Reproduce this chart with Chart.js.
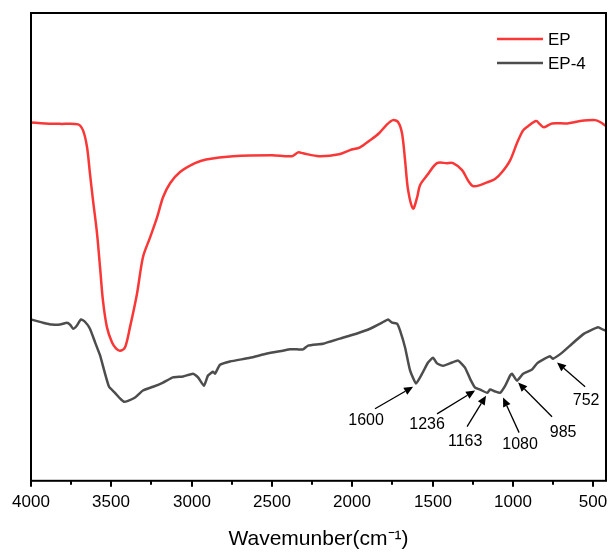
<!DOCTYPE html>
<html>
<head>
<meta charset="utf-8">
<script src="https://cdn.jsdelivr.net/npm/chart.js@4.4.1/dist/chart.umd.min.js"></script>
<style>
  html, body { margin: 0; padding: 0; background: #fff; }
  #wrap { width: 610px; height: 553px; }
</style>
</head>
<body>
<div id="wrap"><canvas id="ftir" width="610" height="553"></canvas></div>
<script>
// Espectro EP (rojo) - número de onda y transmitancia (u.a.)
const epWave = [4000,3913,3819,3707,3676,3651,3633,3614,3589,3570,3552,3527,3496,3471,3446,3415,3384,3340,3303,3259,3215,3178,3134,3072,2979,2910,2742,2499,2375,2337,2306,2207,2082,2014,1951,1889,1833,1783,1746,1715,1690,1671,1652,1621,1596,1578,1534,1472,1410,1372,1316,1279,1248,1204,1160,1111,1067,1017,974,936,905,855,831,806,756,662,581,488,457,420];
const epT = [76.6,76.4,76.3,76.2,74.9,71.3,65.7,60.0,52.9,45.6,38.5,32.8,29.6,28.3,27.8,28.5,32.8,40.0,47.8,52.0,56.3,60.6,63.6,66.0,67.9,68.7,69.4,69.6,69.4,70.2,70.0,69.4,69.8,70.7,71.3,72.8,74.3,76.2,77.1,76.7,74.3,68.5,62.1,58.2,60.6,63.2,65.3,67.9,67.9,67.9,66.4,64.2,63.0,63.2,63.8,64.5,66.0,68.5,72.2,74.9,75.8,76.9,76.2,75.6,76.4,76.4,76.9,77.1,76.7,75.8];

// Espectro EP-4 (gris)
const ep4Wave = [4000,3925,3869,3819,3776,3757,3738,3714,3689,3664,3633,3601,3570,3539,3514,3477,3446,3421,3396,3352,3303,3240,3178,3116,3053,2991,2960,2923,2898,2867,2854,2823,2761,2636,2530,2431,2387,2344,2306,2275,2182,2076,1970,1889,1814,1777,1752,1721,1702,1671,1640,1603,1565,1528,1497,1472,1434,1378,1341,1298,1266,1235,1204,1160,1142,1111,1080,1048,1017,1005,974,936,880,849,812,768,750,693,631,563,519,469,438,420];
const ep4T = [34.5,33.8,33.4,33.4,33.8,33.4,32.5,33.2,34.5,34.0,32.5,29.6,26.8,22.9,20.1,18.8,17.6,16.9,17.1,17.8,19.3,20.1,21.0,22.1,22.3,22.9,22.1,20.3,22.5,23.3,22.9,24.8,25.5,26.3,27.2,27.8,28.1,28.1,28.1,28.9,29.3,30.4,31.5,32.5,33.8,34.5,33.8,33.6,32.1,28.5,23.6,20.8,22.9,25.3,26.3,25.1,24.6,25.3,25.7,24.2,21.8,19.9,19.5,18.8,19.5,19.1,18.8,20.3,22.5,22.9,21.4,22.9,23.8,25.1,25.9,26.6,26.1,27.4,29.3,31.3,32.1,32.8,32.3,32.1];

// Ticks del eje x
const majorTicks = [4000,3500,3000,2500,2000,1500,1000,500];
const minorTicks = [3750,3250,2750,2250,1750,1250,750];

// Picos señalados con flechas (EP-4)
const peakLabels = ['1600','1236','1163','1080','985','752'];
const tipWave  = [1621,1235,1167,1061,967,725];
const tipT     = [20.1,19.3,18.2,17.8,21.0,25.3];
const tailWave = [1858,1472,1285,961,756,550];
const tailT    = [15.4,14.3,11.6,10.3,13.7,20.1];
const textWave = [1914,1534,1297,955,687,544];
const textT    = [12.8,12.0,8.4,7.7,10.3,17.1];

const seriesNames = ['EP','EP-4'];
const seriesColors = ['rgb(250,55,55)','rgb(77,77,77)'];
const fuente = '"Liberation Sans", Arial, sans-serif';

function puntos(xs, ys) {
    return xs.map((x, i) => ({ x: x, y: ys[i] }));
}

// Marco, ticks, etiquetas, leyenda y anotaciones
const extras = {
    id: 'extras',
    afterDraw(chart) {
        const ctx = chart.ctx;
        const a = chart.chartArea;
        const xs = chart.scales.x, ys = chart.scales.y;
        ctx.save();

        // marco
        ctx.strokeStyle = '#000';
        ctx.lineWidth = 2;
        ctx.strokeRect(a.left, a.top, a.right - a.left, a.bottom - a.top);

        // ticks hacia afuera y etiquetas
        ctx.font = '17px ' + fuente;
        ctx.fillStyle = '#000';
        ctx.textAlign = 'center';
        ctx.textBaseline = 'middle';
        majorTicks.forEach(v => {
            const px = Math.round(xs.getPixelForValue(v));
            ctx.beginPath(); ctx.moveTo(px, a.bottom); ctx.lineTo(px, a.bottom + 6); ctx.stroke();
            ctx.fillText(String(v), px, a.bottom + 22);
        });
        minorTicks.forEach(v => {
            const px = Math.round(xs.getPixelForValue(v));
            ctx.beginPath(); ctx.moveTo(px, a.bottom); ctx.lineTo(px, a.bottom + 4); ctx.stroke();
        });

        // leyenda
        ctx.textAlign = 'left';
        seriesNames.forEach((n, i) => {
            const y = a.top + 26 + i * 24;
            ctx.strokeStyle = seriesColors[i];
            ctx.lineWidth = 2.5;
            ctx.beginPath(); ctx.moveTo(a.right - 109, y); ctx.lineTo(a.right - 63, y); ctx.stroke();
            ctx.fillStyle = '#000';
            ctx.fillText(n, a.right - 58, y + 1);
        });

        // flechas de picos
        ctx.font = '16px ' + fuente;
        ctx.textAlign = 'center';
        peakLabels.forEach((lab, i) => {
            const x1 = xs.getPixelForValue(tailWave[i]), y1 = ys.getPixelForValue(tailT[i]);
            const x2 = xs.getPixelForValue(tipWave[i]),  y2 = ys.getPixelForValue(tipT[i]);
            const ang = Math.atan2(y2 - y1, x2 - x1);
            const hl = 9, hw = 4;
            ctx.strokeStyle = '#000';
            ctx.fillStyle = '#000';
            ctx.lineWidth = 1.3;
            ctx.beginPath();
            ctx.moveTo(x1, y1);
            ctx.lineTo(x2 - hl * Math.cos(ang), y2 - hl * Math.sin(ang));
            ctx.stroke();
            ctx.beginPath();
            ctx.moveTo(x2, y2);
            ctx.lineTo(x2 - hl * Math.cos(ang) + hw * Math.sin(ang), y2 - hl * Math.sin(ang) - hw * Math.cos(ang));
            ctx.lineTo(x2 - hl * Math.cos(ang) - hw * Math.sin(ang), y2 - hl * Math.sin(ang) + hw * Math.cos(ang));
            ctx.closePath();
            ctx.fill();
            ctx.fillText(lab, xs.getPixelForValue(textWave[i]), ys.getPixelForValue(textT[i]));
        });
        ctx.restore();
    }
};

const ctx = document.getElementById('ftir').getContext('2d');
new Chart(ctx, {
    type: 'line',
    data: {
        datasets: [
            {
                label: seriesNames[0],
                data: puntos(epWave, epT),
                borderColor: seriesColors[0],
                borderWidth: 2.5,
                pointRadius: 0,
                tension: 0.3,
                fill: false
            },
            {
                label: seriesNames[1],
                data: puntos(ep4Wave, ep4T),
                borderColor: seriesColors[1],
                borderWidth: 2.5,
                pointRadius: 0,
                tension: 0.15,
                fill: false
            }
        ]
    },
    options: {
        responsive: false,
        animation: false,
        events: [],
        layout: { padding: { left: 31, right: 4, top: 13, bottom: 1 } },
        plugins: {
            legend: { display: false },
            tooltip: { enabled: false }
        },
        scales: {
            x: {
                type: 'linear',
                reverse: true,
                min: 420,
                max: 4000,
                afterBuildTicks: s => { s.ticks = majorTicks.map(v => ({ value: v })); },
                grid: { display: false, drawTicks: false },
                border: { display: false },
                ticks: { display: false },
                title: {
                    display: true,
                    text: 'Wavemunber(cm⁻¹)',
                    color: '#000',
                    font: { family: fuente, size: 21 },
                    padding: { top: 46, bottom: 0 }
                }
            },
            y: {
                display: false,
                min: 0,
                max: 100
            }
        }
    },
    plugins: [extras]
});
</script>
</body>
</html>
